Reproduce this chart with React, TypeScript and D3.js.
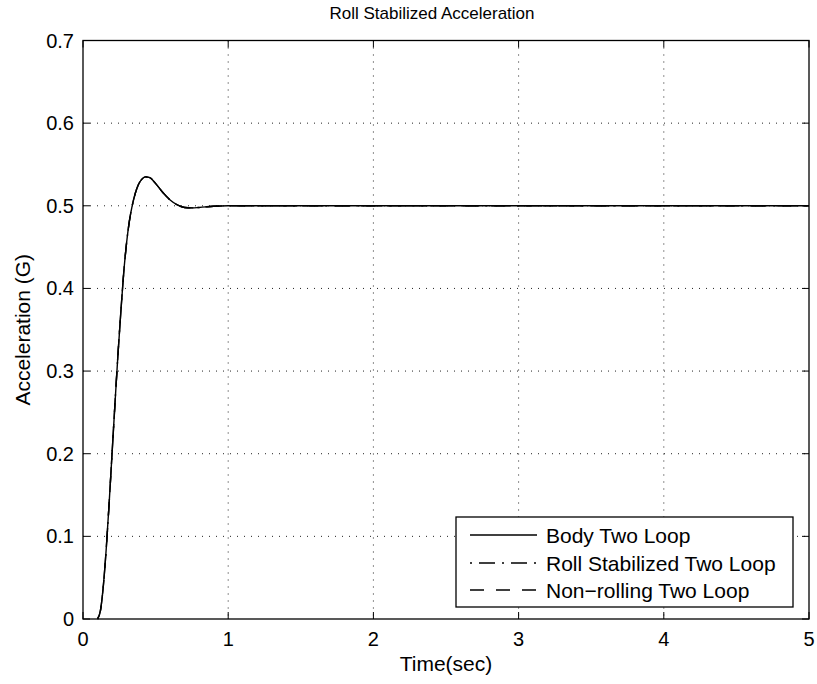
import React from "react";
import * as d3 from "d3";

const title = "Roll Stabilized Acceleration";
const xLabel = "Time(sec)";
const yLabel = "Acceleration (G)";
const xTicks = [0, 1, 2, 3, 4, 5];
const yTicks = [0, 0.1, 0.2, 0.3, 0.4, 0.5, 0.6, 0.7];
const seriesNames = ["Body Two Loop", "Roll Stabilized Two Loop", "Non\u2212rolling Two Loop"];

const timeSec = [0.1, 0.12, 0.14, 0.16, 0.18, 0.2, 0.22, 0.24, 0.26, 0.28, 0.3, 0.32, 0.34, 0.36, 0.38, 0.4, 0.43, 0.46, 0.5, 0.55, 0.6, 0.65, 0.7, 0.75, 0.8, 0.9, 1.0, 1.5, 2, 3, 4, 5];
const bodyTwoLoop = [0, 0.01, 0.04, 0.085, 0.14, 0.2, 0.26, 0.318, 0.37, 0.418, 0.455, 0.482, 0.501, 0.515, 0.525, 0.531, 0.535, 0.534, 0.527, 0.516, 0.507, 0.501, 0.498, 0.4975, 0.498, 0.4995, 0.5, 0.5, 0.5, 0.5, 0.5, 0.5];
const rollStabilizedTwoLoop = [0, 0.01, 0.04, 0.085, 0.14, 0.2, 0.26, 0.318, 0.37, 0.418, 0.455, 0.482, 0.501, 0.515, 0.525, 0.531, 0.535, 0.534, 0.527, 0.516, 0.507, 0.501, 0.498, 0.4975, 0.498, 0.4995, 0.5, 0.5, 0.5, 0.5, 0.5, 0.5];
const nonRollingTwoLoop = [0, 0.01, 0.04, 0.085, 0.14, 0.2, 0.26, 0.318, 0.37, 0.418, 0.455, 0.482, 0.501, 0.515, 0.525, 0.531, 0.535, 0.534, 0.527, 0.516, 0.507, 0.501, 0.498, 0.4975, 0.498, 0.4995, 0.5, 0.5, 0.5, 0.5, 0.5, 0.5];

const W = 817;
const H = 684;
const L = 83;
const R = 809;
const T = 40.5;
const B = 619;
const FONT = "'Liberation Sans', Arial, Helvetica, sans-serif";

export default function App() {
  const x = d3.scaleLinear().domain([0, 5]).range([L, R]);
  const y = d3.scaleLinear().domain([0, 0.7]).range([B, T]);
  const line = d3
    .line<[number, number]>()
    .x((d) => x(d[0]))
    .y((d) => y(d[1]))
    .curve(d3.curveMonotoneX);

  const series = [
    { name: seriesNames[0], vals: bodyTwoLoop, dash: "none" },
    { name: seriesNames[1], vals: rollStabilizedTwoLoop, dash: "2,7,16,7" },
    { name: seriesNames[2], vals: nonRollingTwoLoop, dash: "14,12" },
  ];

  const tickLen = 7;
  const legX0 = 456;
  const legY0 = 517;
  const legW = 337;
  const legH = 90;
  const rowY = [535, 563, 590];

  return (
    <svg
      width={W}
      height={H}
      style={{ position: "absolute", left: 0, top: 0, background: "#fff" }}
      fontFamily={FONT}
    >
      <rect x={0} y={0} width={W} height={H} fill="#fff" />
      {xTicks.slice(1, -1).map((t) => (
        <line key={"gx" + t} x1={x(t)} x2={x(t)} y1={T} y2={B} stroke="#222" strokeWidth={1} strokeDasharray="1,6" />
      ))}
      {yTicks.slice(1, -1).map((t) => (
        <line key={"gy" + t} x1={L} x2={R} y1={y(t)} y2={y(t)} stroke="#222" strokeWidth={1} strokeDasharray="1,6" />
      ))}
      {xTicks.map((t) => (
        <g key={"tx" + t}>
          <line x1={x(t)} x2={x(t)} y1={B} y2={B - tickLen} stroke="#000" />
          <line x1={x(t)} x2={x(t)} y1={T} y2={T + tickLen} stroke="#000" />
          <text x={x(t)} y={646} fontSize={20} textAnchor="middle" fill="#000">
            {d3.format("d")(t)}
          </text>
        </g>
      ))}
      {yTicks.map((t) => (
        <g key={"ty" + t}>
          <line x1={L} x2={L + tickLen} y1={y(t)} y2={y(t)} stroke="#000" />
          <line x1={R} x2={R - tickLen} y1={y(t)} y2={y(t)} stroke="#000" />
          <text x={74} y={y(t) + 7} fontSize={20} textAnchor="end" fill="#000">
            {t === 0 ? "0" : d3.format(".1f")(t)}
          </text>
        </g>
      ))}
      {series.map((s) => (
        <path
          key={s.name}
          d={line(timeSec.map((t, i) => [t, s.vals[i]] as [number, number])) || ""}
          fill="none"
          stroke="#000"
          strokeWidth={1.4}
          strokeDasharray={s.dash}
        />
      ))}
      <rect x={L} y={T} width={R - L} height={B - T} fill="none" stroke="#000" strokeWidth={1.3} />
      <rect x={legX0} y={legY0} width={legW} height={legH} fill="#fff" stroke="#000" strokeWidth={1.3} />
      {series.map((s, i) => (
        <g key={"lg" + s.name}>
          <line x1={470} x2={537} y1={rowY[i]} y2={rowY[i]} stroke="#000" strokeWidth={1.3} strokeDasharray={s.dash} />
          <text x={546} y={rowY[i] + 7.5} fontSize={21} fill="#000">
            {s.name}
          </text>
        </g>
      ))}
      <text x={432} y={19} fontSize={17} textAnchor="middle" fill="#000">
        {title}
      </text>
      <text x={(L + R) / 2} y={671} fontSize={21} textAnchor="middle" fill="#000">
        {xLabel}
      </text>
      <text
        transform={`translate(30, ${(T + B) / 2}) rotate(-90)`}
        fontSize={21}
        textAnchor="middle"
        fill="#000"
      >
        {yLabel}
      </text>
    </svg>
  );
}
